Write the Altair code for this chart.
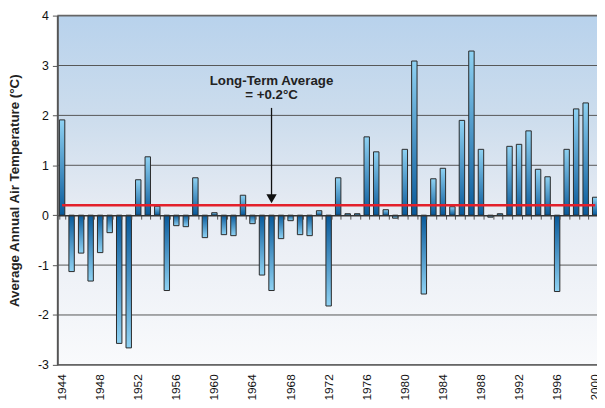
import altair as alt
import pandas as pd

years = [str(y) for y in range(1944, 2001)]
temps = [1.91, -1.13, -0.76, -1.32, -0.75, -0.35, -2.57, -2.66, 0.71, 1.17, 0.18, -1.51, -0.21, -0.23,
         0.75, -0.45, 0.05, -0.39, -0.41, 0.40, -0.17, -1.20, -1.51, -0.47, -0.11, -0.39, -0.41, 0.09,
         -1.82, 0.75, 0.03, 0.03, 1.57, 1.27, 0.11, -0.06, 1.32, 3.09, -1.58, 0.73, 0.94, 0.17,
         1.90, 3.29, 1.32, -0.04, 0.03, 1.38, 1.42, 1.69, 0.92, 0.77, -1.53, 1.32, 2.13, 2.25, 0.36]
label_years = [str(y) for y in range(1944, 2001, 4)]
y_ticks = [-3, -2, -1, 0, 1, 2, 3, 4]
inner_grid = [-2, -1, 1, 2, 3]
border_grid = [-3, 4]
avg_value = 0.2
avg_span = ["1944", "2000"]
arrow_year = "1966"
arrow_top = 2.15
arrow_bottom = 0.4
arrow_head = 0.33
note_lines = ["Long-Term Average", "= +0.2°C"]
note_y = 2.69

W, H = 550, 354
FONT = "Liberation Sans"

df = pd.DataFrame({"year": years, "t": temps})

xscale = alt.Scale(domain=years, paddingInner=0.43, paddingOuter=0.215)
yscale = alt.Scale(domain=[-3, 4], nice=False, zero=False)

y_axis = alt.Axis(values=y_ticks, grid=False, title="Average Annual Air Temperature (°C)",
                  titleFont=FONT, titleFontSize=13.5, titleFontWeight="bold", titleColor="#222",
                  titlePadding=16, labelFont=FONT, labelFontSize=12.5, labelColor="#111",
                  labelExpr="'' + datum.value",
                  labelPadding=4, tickSize=5, tickColor="#555", tickWidth=1,
                  domainColor="#555", domainWidth=2, zindex=1, orient="left")

label_axis = alt.Axis(orient="bottom", values=label_years, labelAngle=270, labelFont=FONT,
                      labelFontSize=12, labelColor="#111", labelPadding=9, ticks=False,
                      domain=False, grid=False, title=None, zindex=1)
zero_axis = alt.Axis(orient="bottom", offset=-(3 / 7) * H, labels=False, ticks=True, tickSize=4,
                     tickColor="#555", tickWidth=1, tickBand="extent", domain=True,
                     domainColor="#333", domainWidth=1.5, grid=False, title=None, zindex=1)

bg_grad = alt.LinearGradient(gradient="linear", x1=0, y1=0, x2=0, y2=1, stops=[
    alt.GradientStop(offset=0, color="#b8d2ec"),
    alt.GradientStop(offset=0.3, color="#cddded"),
    alt.GradientStop(offset=0.55, color="#e6ebf3"),
    alt.GradientStop(offset=1, color="#f9fafc")])
pos_grad = alt.LinearGradient(gradient="linear", x1=0, y1=0, x2=0, y2=1, stops=[
    alt.GradientStop(offset=0, color="#8fd2f3"),
    alt.GradientStop(offset=1, color="#08599a")])
neg_grad = alt.LinearGradient(gradient="linear", x1=0, y1=0, x2=0, y2=1, stops=[
    alt.GradientStop(offset=0, color="#08599a"),
    alt.GradientStop(offset=1, color="#8fd2f3")])

bg = alt.Chart(pd.DataFrame({"k": [0]})).mark_rect(fill=bg_grad).encode(
    x=alt.value(0), x2=alt.value("width"), y=alt.value(0), y2=alt.value("height"))

grid = alt.Chart(pd.DataFrame({"v": inner_grid})).mark_rule(color="#555", strokeWidth=1).encode(
    y=alt.Y("v:Q", scale=yscale, axis=None))
border = alt.Chart(pd.DataFrame({"v": border_grid})).mark_rule(color="#666", strokeWidth=2).encode(
    y=alt.Y("v:Q", scale=yscale, axis=None))

base = alt.Chart(df)
bars_pos = base.transform_filter("datum.t >= 0").mark_bar(
    fill=pos_grad, stroke="#2a2a2a", strokeWidth=1).encode(
    x=alt.X("year:O", scale=xscale, axis=label_axis),
    y=alt.Y("t:Q", scale=yscale, axis=y_axis), y2=alt.datum(0))
bars_neg = base.transform_filter("datum.t < 0").mark_bar(
    fill=neg_grad, stroke="#2a2a2a", strokeWidth=1).encode(
    x=alt.X("year:O", scale=xscale, axis=zero_axis),
    y=alt.Y("t:Q", scale=yscale, axis=None), y2=alt.datum(0))

avg_df = pd.DataFrame({"year": avg_span, "t": [avg_value, avg_value]})
red = alt.Chart(avg_df).mark_line(color="#e3202b", strokeWidth=2.5).encode(
    x=alt.X("year:O", scale=xscale, axis=None), y=alt.Y("t:Q", scale=yscale, axis=None))

arr_df = pd.DataFrame({"year": [arrow_year], "a": [arrow_top], "b": [arrow_bottom],
                       "h": [arrow_head], "n": [note_y]})
arrow = alt.Chart(arr_df).mark_rule(color="#111", strokeWidth=1.3).encode(
    x=alt.X("year:O", scale=xscale, axis=None), y=alt.Y("a:Q", scale=yscale, axis=None), y2="b:Q")
head = alt.Chart(arr_df).mark_point(shape="triangle-down", filled=True, fill="#111", opacity=1,
                                    size=110, strokeWidth=0).encode(
    x=alt.X("year:O", scale=xscale, axis=None), y=alt.Y("h:Q", scale=yscale, axis=None))
note = alt.Chart(arr_df).mark_text(text=note_lines, font=FONT, fontSize=13.5, fontWeight="bold",
                                   color="#222", lineHeight=14.5, baseline="middle",
                                   align="center").encode(
    x=alt.X("year:O", scale=xscale, axis=None), y=alt.Y("n:Q", scale=yscale, axis=None))

chart = alt.layer(bg, grid, border, bars_pos, bars_neg, red, arrow, head, note).resolve_axis(
    x="independent", y="independent").properties(
    width=W, height=H, padding={"left": 50, "top": 5, "right": -3, "bottom": 41},
    autosize=alt.AutoSizeParams(type="none"), background="white"
).configure_view(stroke=None).configure(font=FONT)

chart.save("out.html", embed_options={"renderer": "svg", "actions": False})
